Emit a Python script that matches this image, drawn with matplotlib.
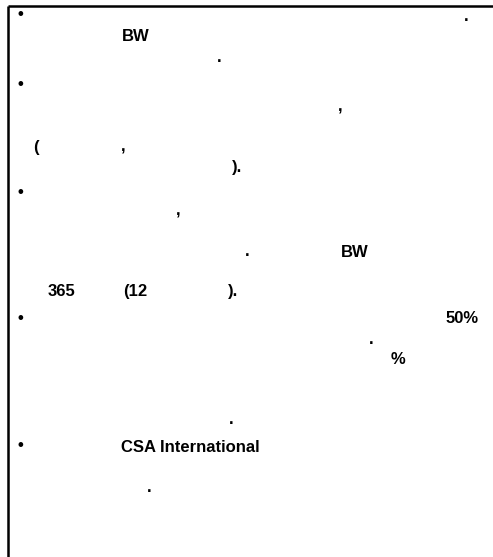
import matplotlib.pyplot as plt

# visible fragments of the bullet text (the hangul glyphs render blank in the source)
bullet_rows = [19, 89, 197, 323, 450]

fragments = ['.', 'BW', '.', ',', '(', ',', ').', ',', '.', 'BW',
             '365', '(12', ').', '50%', '.', '%', '.', 'CSA International', '.']

# left edge / baseline in pixels for each fragment
layout = [(464, 21), (122, 41), (217, 62), (338, 112), (33, 152), (121, 152),
          (232, 172), (176, 216), (245, 256), (341, 257),
          (48, 296), (123, 296), (228, 296), (446, 323), (369, 344),
          (391, 364), (229, 424), (121, 452), (147, 492)]

W, H = 493, 557
fig = plt.figure(figsize=(W / 100, H / 100), dpi=100)
ax = fig.add_axes([0, 0, 1, 1])
ax.set_xlim(0, W)
ax.set_ylim(H, 0)
ax.axis('off')

# box frame: top and left edges only
ax.plot([7.5, W], [5.5, 5.5], color='black', linewidth=1.8, solid_capstyle='butt')
ax.plot([7.5, 7.5], [5.5, H], color='black', linewidth=1.8, solid_capstyle='butt')

font = dict(family='Liberation Sans', fontweight='bold', fontsize=12, color='black')
for y in bullet_rows:
    ax.text(17.5, y, '•', va='baseline', ha='left', **font)
for s, (x, y) in zip(fragments, layout):
    ax.text(x, y, s, va='baseline', ha='left', **font)

plt.savefig('out.png', dpi=100)
